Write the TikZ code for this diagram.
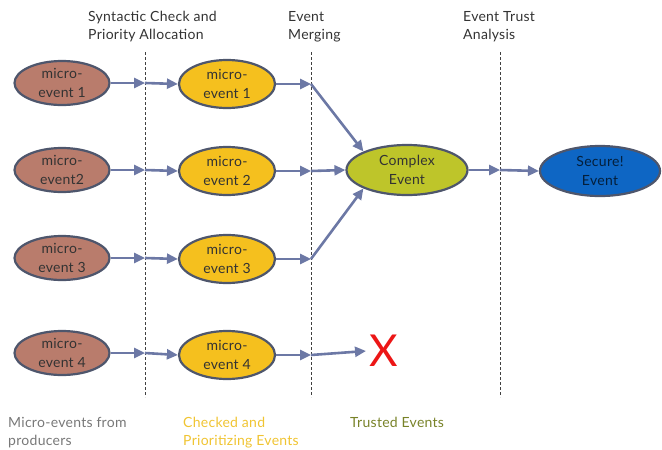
\documentclass[tikz,border=0pt]{standalone}
\usepackage{fontspec}
\setmainfont{Lato}[LetterSpace=2]
\usetikzlibrary{shapes.geometric,arrows.meta}
\usepackage{xcolor}
\definecolor{evbrown}{RGB}{185,124,108}
\definecolor{evyellow}{RGB}{245,192,30}
\definecolor{evgreen}{RGB}{190,197,42}
\definecolor{evblue}{RGB}{14,102,196}
\definecolor{evborder}{RGB}{78,86,108}
\definecolor{evarrow}{RGB}{108,120,165}
\definecolor{evred}{RGB}{236,22,22}
\definecolor{evgray}{RGB}{120,120,120}
\definecolor{evgold}{RGB}{240,196,50}
\definecolor{evolive}{RGB}{120,130,40}

\begin{document}
\begin{tikzpicture}[x=1pt,y=-1pt]
  \tikzstyle{myev}=[ellipse, draw=evborder, line width=2.2pt, align=center,
    inner sep=0pt, text=black!80, font=\fontsize{14}{18.5}\selectfont];
  \tikzstyle{myraw}=[myev, fill=evbrown, minimum width=95pt, minimum height=44pt];
  \tikzstyle{mychk}=[myev, fill=evyellow, minimum width=96pt, minimum height=48pt];
  \tikzstyle{mybig}=[myev, minimum width=121pt, minimum height=50pt];
  \tikzstyle{myconn}=[line width=2.6pt, draw=evarrow,
    -{Triangle[length=11pt,width=10pt]}];
  \tikzstyle{mysep}=[densely dashed, line width=0.5pt, black!75];
  \tikzstyle{mytext}=[align=left, anchor=base west, inner sep=0pt,
    font=\fontsize{14}{18}\selectfont];
  %
  \useasboundingbox (0,0) rectangle (662,450);
  %
  % phase separators
  \foreach \x/\n in {145/1, 311/2, 500/3} {
    \coordinate (d\n) at (\x,52);
    \coordinate (e\n) at (\x,397);
    \draw[mysep] (d\n) -- (e\n);
  }
  %
  % phase titles (base = last line)
  \node[mytext, text=black!80] (t1) at (88,39) {Syntactic Check and\\Priority Allocation};
  \node[mytext, text=black!80] (t2) at (288,39) {Event\\Merging};
  \node[mytext, text=black!80] (t3) at (463,39) {Event Trust\\Analysis};
  %
  % micro-events from producers
  \node[myraw] (b1) at (62,83) {micro-\\event 1};
  \node[myraw] (b2) at (62,170) {micro-\\event2};
  \node[myraw] (b3) at (62,258) {micro-\\event 3};
  \node[myraw] (b4) at (62,353) {micro-\\event 4};
  %
  % checked events
  \node[mychk] (y1) at (227,84) {micro-\\event 1};
  \node[mychk] (y2) at (227,171) {micro-\\event 2};
  \node[mychk] (y3) at (227,259) {micro-\\event 3};
  \node[mychk] (y4) at (227,355) {micro-\\event 4};
  %
  % merged and trusted events
  \node[mybig, fill=evgreen] (cx) at (407,170) {Complex\\Event};
  \node[mybig, fill=evblue, text=black!70!evblue, minimum width=120pt] (se) at (600,171) {Secure!\\Event};
  \node[anchor=west, inner sep=3pt, text=evred, font=\fontsize{44}{44}\selectfont] (rej) at (366,351) {X};
  %
  % connections
  \foreach \i in {1,...,4} {
    \draw[myconn] (b\i.east) -- (b\i.east -| d1);
    \draw[myconn] (b\i.east -| d1) -- (y\i.west);
    \draw[myconn] (y\i.east) -- (y\i.east -| d2);
  }
  %
  \draw[myconn] (y1.east -| d2) -- (cx.north west);
  \draw[myconn] (y2.east -| d2) -- (cx.west);
  \draw[myconn] (y3.east -| d2) -- (cx.south west);
  \draw[myconn] (y4.east -| d2) -- (rej.west);
  %
  \draw[myconn] (cx.east) -- (cx.east -| d3);
  \draw[myconn] (cx.east -| d3) -- (se.west);
  %
  % legend (base = last line)
  \node[mytext, text=evgray] (l1) at (8,445) {Micro-events from\\producers};
  \node[mytext, text=evgold] (l2) at (183,445) {Checked and\\Prioritizing Events};
  \node[mytext, text=evolive] (l3) at (350,427) {Trusted Events};
\end{tikzpicture}
\end{document}
